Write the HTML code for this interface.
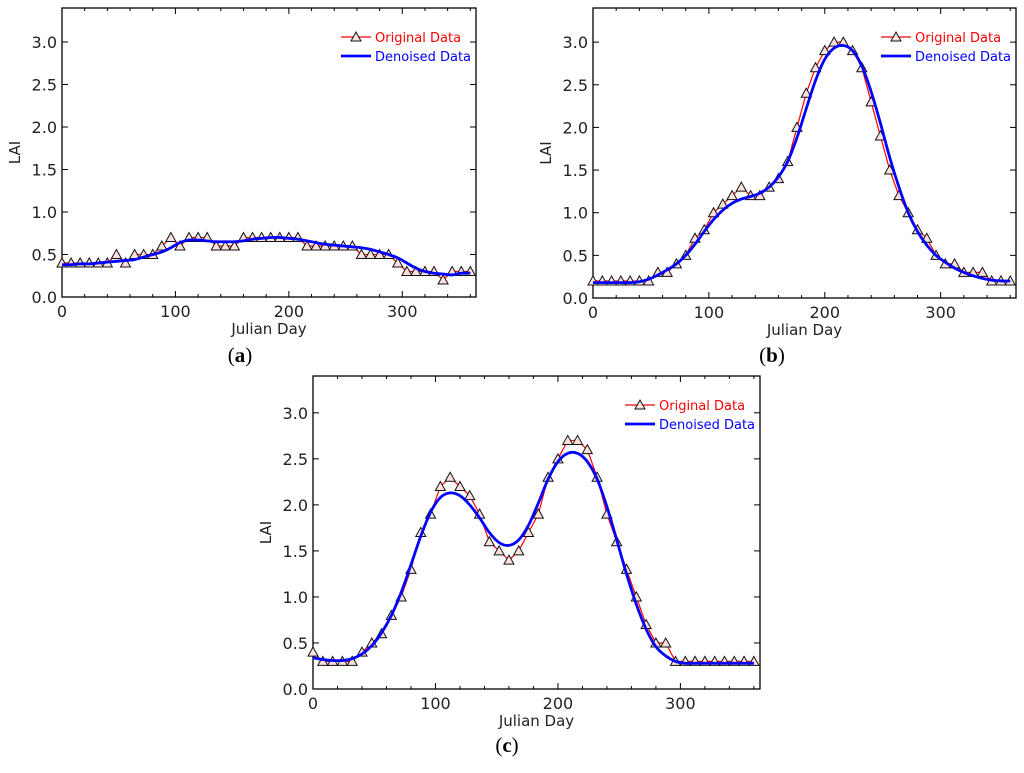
<!DOCTYPE html>
<html><head><meta charset="utf-8"><style>
body{margin:0;background:#fff;width:1024px;height:773px;overflow:hidden}
svg{position:absolute;left:0;top:0}
text{font-family:"DejaVu Sans","Liberation Sans",sans-serif}
text.cap{font-family:"Liberation Serif",serif}
</style></head><body>
<svg id="s" width="1024" height="773"></svg>
<script>
const days=[0,8,16,24,32,40,48,56,64,72,80,88,96,104,112,120,128,136,144,152,160,168,176,184,192,200,208,216,224,232,240,248,256,264,272,280,288,296,304,312,320,328,336,344,352,360];
const origA=[.4,.4,.4,.4,.4,.4,.5,.4,.5,.5,.5,.6,.7,.6,.7,.7,.7,.6,.6,.6,.7,.7,.7,.7,.7,.7,.7,.6,.6,.6,.6,.6,.6,.5,.5,.5,.5,.4,.3,.3,.3,.3,.2,.3,.3,.3];
const denA=[.38,.38,.39,.39,.40,.41,.42,.43,.44,.47,.50,.53,.58,.64,.67,.67,.66,.65,.65,.65,.66,.68,.69,.70,.70,.69,.68,.66,.64,.62,.61,.60,.59,.58,.56,.53,.50,.46,.40,.34,.30,.28,.27,.26,.28,.28];
const origB=[.2,.2,.2,.2,.2,.2,.2,.3,.3,.4,.5,.7,.8,1.0,1.1,1.2,1.3,1.2,1.2,1.3,1.4,1.6,2.0,2.4,2.7,2.9,3.0,3.0,2.9,2.7,2.3,1.9,1.5,1.2,1.0,.8,.7,.5,.4,.4,.3,.3,.3,.2,.2,.2];
const denB=[.18,.18,.18,.18,.18,.19,.22,.27,.33,.40,.50,.63,.78,.92,1.03,1.11,1.16,1.19,1.23,1.30,1.42,1.60,1.88,2.22,2.55,2.80,2.93,2.96,2.90,2.72,2.42,2.05,1.65,1.30,1.00,.78,.62,.50,.42,.35,.30,.26,.23,.21,.20,.20];
const origC=[.4,.3,.3,.3,.3,.4,.5,.6,.8,1.0,1.3,1.7,1.9,2.2,2.3,2.2,2.1,1.9,1.6,1.5,1.4,1.5,1.7,1.9,2.3,2.5,2.7,2.7,2.6,2.3,1.9,1.6,1.3,1.0,.7,.5,.5,.3,.3,.3,.3,.3,.3,.3,.3,.3];
const denC=[.34,.32,.31,.31,.33,.38,.47,.61,.80,1.05,1.35,1.66,1.92,2.08,2.13,2.10,2.00,1.86,1.70,1.59,1.56,1.62,1.78,2.02,2.28,2.47,2.56,2.56,2.47,2.28,1.98,1.62,1.25,.92,.65,.46,.36,.30,.28,.28,.28,.28,.28,.28,.28,.28];
const yTicks=[0,0.5,1,1.5,2,2.5,3];
const xTicks=[0,100,200,300];
const S=document.getElementById('s');const NS='http://www.w3.org/2000/svg';
function mk(t,a,p){const e=document.createElementNS(NS,t);for(const k in a)e.setAttribute(k,a[k]);(p||S).appendChild(e);return e;}
function panel(id,L,R,T,B,orig,den,lbl,lx,ly){
  const g=mk('g',{});
  
  
  const X=d=>L+d/365*(R-L), Y=v=>B-v/3.4*(B-T);
  const fr=mk('rect',{x:L,y:T,width:R-L,height:B-T,fill:'none',stroke:'#000','stroke-width':1.3},g);
  
  yTicks.forEach(v=>{const y=Y(v);mk('line',{x1:L,x2:L+6,y1:y,y2:y,stroke:'#000'},g);mk('line',{x1:R,x2:R-6,y1:y,y2:y,stroke:'#000'},g);
    const t=mk('text',{x:L-5,y:y+6,'text-anchor':'end','font-size':16,fill:'#222'},g);t.textContent=v.toFixed(1);
    });
  for(let d=0;d<=360;d+=20){const x=X(d),len=d%100==0?6:3;mk('line',{x1:x,x2:x,y1:B,y2:B-len,stroke:'#000'},g);mk('line',{x1:x,x2:x,y1:T,y2:T+len,stroke:'#000'},g);}
  xTicks.forEach(d=>{const t=mk('text',{x:X(d),y:B+20,'text-anchor':'middle','font-size':16,fill:'#222'},g);t.textContent=d;
    });
  const xt=mk('text',{x:(L+R)/2,y:B+37,'text-anchor':'middle','font-size':15,fill:'#222'},g);xt.textContent='Julian Day';
  
  const yt=mk('text',{x:0,y:0,'text-anchor':'middle','font-size':15,fill:'#222',transform:`translate(${L-42},${(T+B)/2}) rotate(-90)`},g);yt.textContent='LAI';
  
  const op=mk('polyline',{points:days.map((d,i)=>X(d)+','+Y(orig[i])).join(' '),fill:'none',stroke:'#f00','stroke-width':1.2},g);
  
  days.forEach((d,i)=>{const x=X(d),y=Y(orig[i]);const m=mk('polygon',{points:`${x},${y-5} ${x-5},${y+4} ${x+5},${y+4}`,fill:'#fbe0dc',stroke:'#111','stroke-width':1},g);
    });
  const P=days.map((d,i)=>[X(d),Y(den[i])]);let s='M'+P[0];
  for(let i=0;i<P.length-1;i++){const p0=P[i-1]||P[i],p1=P[i],p2=P[i+1],p3=P[i+2]||P[i+1];
    s+=` C${p1[0]+(p2[0]-p0[0])/6},${p1[1]+(p2[1]-p0[1])/6} ${p2[0]-(p3[0]-p1[0])/6},${p2[1]-(p3[1]-p1[1])/6} ${p2[0]},${p2[1]}`;}
  const dp=mk('path',{d:s,fill:'none',stroke:'#0000ff','stroke-width':2.8},g);
  
  const lgx=R-135,lgy=T+29;
  const lg=mk('g',{},g);
  mk('line',{x1:lgx,x2:lgx+30,y1:lgy,y2:lgy,stroke:'#f00','stroke-width':1.2},lg);
  mk('polygon',{points:`${lgx+15},${lgy-5} ${lgx+10},${lgy+4} ${lgx+20},${lgy+4}`,fill:'#fbe0dc',stroke:'#111'},lg);
  let t=mk('text',{x:lgx+34,y:lgy+5,'font-size':13,fill:'#f00'},lg);t.textContent='Original Data';
  mk('line',{x1:lgx,x2:lgx+30,y1:lgy+19,y2:lgy+19,stroke:'#00f','stroke-width':2.8},lg);
  t=mk('text',{x:lgx+34,y:lgy+24,'font-size':13,fill:'#00f'},lg);t.textContent='Denoised Data';
  const c=mk('text',{x:lx,y:ly,'text-anchor':'middle','font-size':21,fill:'#000','class':'cap'},g);
  c.innerHTML='(<tspan font-weight="bold">'+lbl+'</tspan>)';
  
}
panel('a',62,476,8,297,origA,denA,'a',240,362);
panel('b',593,1016,8,298,origB,denB,'b',772,362);
panel('c',313,760,376,689,origC,denC,'c',507,752);
</script>
</body></html>
